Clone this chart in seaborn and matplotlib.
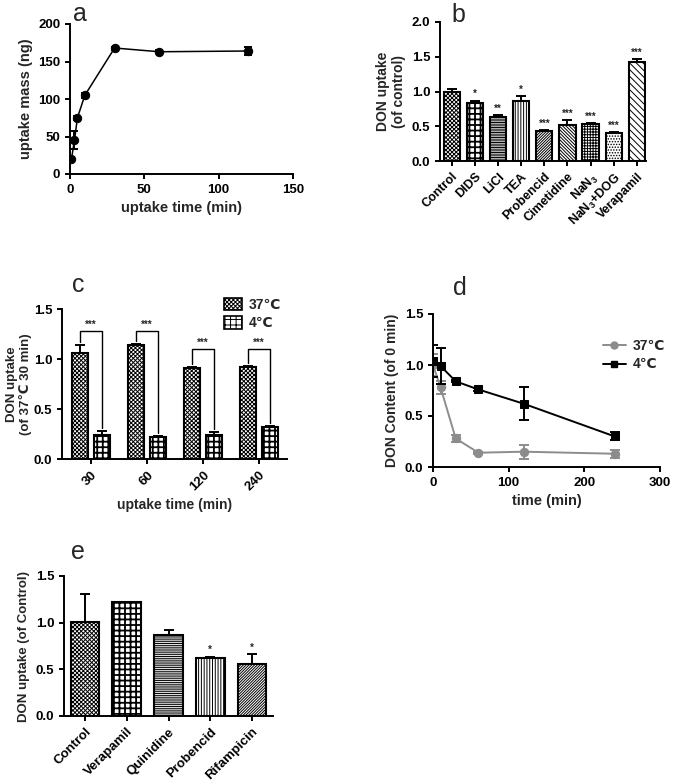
import numpy as np
import pandas as pd
import seaborn as sns
import matplotlib.pyplot as plt
from matplotlib.patches import Patch
from matplotlib.lines import Line2D

# panel a: uptake time course
a_time = [1, 3, 5, 10, 30, 60, 120]
a_mass = [20, 45, 75, 105, 168, 163, 164]
a_err = [2, 12, 3, 3, 2, 2, 5]

# panel b: inhibitors
b_groups = ["Control", "DIDS", "LiCl", "TEA", "Probencid", "Cimetidine",
            "NaN$_3$", "NaN$_3$+DOG", "Verapamil"]
b_mean = [1.00, 0.83, 0.64, 0.87, 0.43, 0.52, 0.53, 0.41, 1.42]
b_err = [0.04, 0.04, 0.02, 0.06, 0.01, 0.07, 0.02, 0.01, 0.05]
b_sig = ["", "*", "**", "*", "***", "***", "***", "***", "***"]
b_hatch = ["xxxxxxxx", "+++", "----------", "||||||", "////////////",
           "\\" * 10, "++++++", "......", "\\" * 5]

# panel c: temperature
c_time = ["30", "60", "120", "240"]
c_37 = [1.06, 1.14, 0.91, 0.92]
c_37_err = [0.08, 0.01, 0.01, 0.01]
c_4 = [0.24, 0.22, 0.24, 0.32]
c_4_err = [0.04, 0.01, 0.03, 0.01]
c_bracket = [1.28, 1.28, 1.10, 1.10]

# panel d: efflux
d_time = [0, 10, 30, 60, 120, 240]
d_37 = [1.00, 0.78, 0.28, 0.14, 0.15, 0.13]
d_37_err = [0.11, 0.06, 0.03, 0.01, 0.07, 0.04]
d_4 = [1.04, 0.99, 0.84, 0.76, 0.62, 0.30]
d_4_err = [0.16, 0.18, 0.01, 0.01, 0.16, 0.04]

# panel e: transporter inhibitors
e_groups = ["Control", "Verapamil", "Quinidine", "Probencid", "Rifampicin"]
e_mean = [1.01, 1.22, 0.87, 0.62, 0.56]
e_err = [0.30, 0.005, 0.05, 0.01, 0.10]
e_sig = ["", "", "", "*", "*"]
e_hatch = ["xxxxxxxx", "+++", "---------", "||||||", "////////////"]

CHECKER = "+++"

sns.set_style("ticks")
plt.rcParams["font.family"] = ["Liberation Sans", "DejaVu Sans"]
plt.rcParams["font.weight"] = "bold"
plt.rcParams["axes.labelweight"] = "bold"
plt.rcParams["mathtext.fontset"] = "custom"
plt.rcParams["mathtext.bf"] = "Liberation Sans:bold"
plt.rcParams["mathtext.default"] = "bf"
plt.rcParams["hatch.linewidth"] = 0.7
plt.rcParams["axes.edgecolor"] = "black"
plt.rcParams["axes.linewidth"] = 1.4
plt.rcParams["xtick.color"] = "black"
plt.rcParams["ytick.color"] = "black"
plt.rcParams["xtick.major.width"] = 1.4
plt.rcParams["ytick.major.width"] = 1.4
plt.rcParams["xtick.major.size"] = 3.5
plt.rcParams["ytick.major.size"] = 3.5
plt.rcParams["xtick.labelsize"] = 9.5
plt.rcParams["ytick.labelsize"] = 9.5
plt.rcParams["axes.labelsize"] = 10

W, H = 675, 782
fig = plt.figure(figsize=(W / 100, H / 100), dpi=100)


def add_ax(left, right, top, bottom):
    # pixel box -> figure fractions
    return fig.add_axes([left / W, 1 - bottom / H, (right - left) / W, (bottom - top) / H])


def finish(ax):
    sns.despine(ax=ax)
    ax.tick_params(direction="out")


def rotate_labels(ax):
    for lab in ax.get_xticklabels():
        lab.set_rotation(45)
        lab.set_ha("right")
        lab.set_rotation_mode("anchor")


def set_hatch(p, h):
    p.set_hatch(h)
    if h == CHECKER and hasattr(p, "set_hatch_linewidth"):
        p.set_hatch_linewidth(1.3)


def up_err(ax, x, y, e):
    ax.errorbar(x, y, yerr=[np.zeros(len(e)), e], fmt="none", ecolor="black",
                elinewidth=1.4, capsize=3.5, capthick=1.4, zorder=5)


# ---- a ----
ax_a = add_ax(70, 293, 24, 174)
sns.lineplot(x=a_time, y=a_mass, color="black", marker="o", markersize=6,
             markeredgecolor="black", linewidth=1.1, ax=ax_a)
ax_a.errorbar(a_time, a_mass, yerr=a_err, fmt="none", ecolor="black",
              elinewidth=1.4, capsize=3, capthick=1.4)
ax_a.set_xlim(0, 150)
ax_a.set_ylim(0, 200)
ax_a.set_xticks([0, 50, 100, 150])
ax_a.set_yticks([0, 50, 100, 150, 200])
ax_a.set_xlabel("uptake time (min)", fontsize=10.5)
ax_a.set_ylabel("uptake mass (ng)", fontsize=10.5)
finish(ax_a)

# ---- b ----
ax_b = add_ax(440, 646, 22, 161)
df_b = pd.DataFrame({"group": b_groups, "uptake": b_mean})
sns.barplot(data=df_b, x="group", y="uptake", color="white", edgecolor="black",
            linewidth=1.5, width=0.7, errorbar=None, ax=ax_b)
for p, h in zip(ax_b.patches, b_hatch):
    set_hatch(p, h)
up_err(ax_b, range(len(b_groups)), b_mean, b_err)
for i, s in enumerate(b_sig):
    if s:
        ax_b.text(i, b_mean[i] + b_err[i] + 0.02, s, ha="center", va="bottom", fontsize=7)
ax_b.set_xlim(-0.52, 8.4)
ax_b.set_ylim(0, 2.0)
ax_b.set_yticks([0, 0.5, 1.0, 1.5, 2.0])
ax_b.set_yticklabels(["0.0", "0.5", "1.0", "1.5", "2.0"])
ax_b.tick_params(axis="x", labelsize=9)
ax_b.set_xlabel("")
ax_b.set_ylabel("DON uptake\n(of control)")
rotate_labels(ax_b)
finish(ax_b)

# ---- c ----
ax_c = add_ax(62, 287, 309, 459)
df_c = pd.DataFrame({"time": c_time * 2, "uptake": c_37 + c_4,
                     "temp": ["37℃"] * 4 + ["4℃"] * 4})
sns.barplot(data=df_c, x="time", y="uptake", hue="temp", palette=["white", "white"],
            edgecolor="black", linewidth=1.5, gap=0.3, errorbar=None, legend=False, ax=ax_c)
bars = ax_c.patches
for p in bars[:4]:
    set_hatch(p, "xxxxxxxx")
for p in bars[4:8]:
    set_hatch(p, CHECKER)
x37 = [p.get_x() + p.get_width() / 2 for p in bars[:4]]
x4 = [p.get_x() + p.get_width() / 2 for p in bars[4:8]]
up_err(ax_c, x37, c_37, c_37_err)
up_err(ax_c, x4, c_4, c_4_err)
for i in range(4):
    top = c_bracket[i]
    ax_c.plot([x37[i], x37[i], x4[i], x4[i]],
              [c_37[i] + c_37_err[i] + 0.03, top, top, c_4[i] + c_4_err[i] + 0.03],
              color="black", linewidth=1.0)
    ax_c.text((x37[i] + x4[i]) / 2, top + 0.01, "***", ha="center", va="bottom", fontsize=7)
ax_c.set_xlim(-0.52, 3.5)
ax_c.set_ylim(0, 1.5)
ax_c.set_yticks([0, 0.5, 1.0, 1.5])
ax_c.set_yticklabels(["0.0", "0.5", "1.0", "1.5"])
ax_c.set_xlabel("uptake time (min)")
ax_c.set_ylabel("DON uptake\n(of 37℃ 30 min)", fontsize=9.5, labelpad=1, linespacing=1.1)
rotate_labels(ax_c)
handles_c = [Patch(facecolor="white", edgecolor="black", hatch="xxxxxxxx", linewidth=1.2),
             Patch(facecolor="white", edgecolor="black", hatch=CHECKER, linewidth=1.2)]
if hasattr(handles_c[1], "set_hatch_linewidth"):
    handles_c[1].set_hatch_linewidth(1.3)
ax_c.legend(handles_c, ["37℃", "4℃"], loc="upper left", bbox_to_anchor=(0.69, 1.12),
            frameon=False, fontsize=10, handlelength=1.3, handleheight=1.0,
            handletextpad=0.5, labelspacing=0.3, borderpad=0)
finish(ax_c)

# ---- d ----
ax_d = add_ax(433, 660, 314, 467)
df_d = pd.DataFrame({"time": d_time * 2, "content": d_37 + d_4,
                     "temp": ["37℃"] * 6 + ["4℃"] * 6})
d_colors = {"37℃": "#8c8c8c", "4℃": "black"}
sns.lineplot(data=df_d, x="time", y="content", hue="temp", style="temp",
             palette=d_colors, markers={"37℃": "o", "4℃": "s"}, dashes=False,
             markersize=6, markeredgecolor=None, linewidth=1.4, legend=False, ax=ax_d)
ax_d.errorbar(d_time, d_37, yerr=d_37_err, fmt="none", ecolor=d_colors["37℃"],
              elinewidth=1.4, capsize=3.5, capthick=1.4)
ax_d.errorbar(d_time, d_4, yerr=d_4_err, fmt="none", ecolor="black",
              elinewidth=1.4, capsize=3.5, capthick=1.4)
ax_d.set_xlim(0, 300)
ax_d.set_ylim(0, 1.5)
ax_d.set_xticks([0, 100, 200, 300])
ax_d.set_yticks([0, 0.5, 1.0, 1.5])
ax_d.set_yticklabels(["0.0", "0.5", "1.0", "1.5"])
ax_d.set_xlabel("time (min)", fontsize=10.5)
ax_d.set_ylabel("DON Content (of 0 min)")
handles_d = [Line2D([], [], color=d_colors["37℃"], marker="o", markersize=5, linewidth=1.4),
             Line2D([], [], color="black", marker="s", markersize=5, linewidth=1.4)]
ax_d.legend(handles_d, ["37℃", "4℃"], loc="upper left", bbox_to_anchor=(0.72, 0.88),
            frameon=False, fontsize=10, handlelength=1.6, handletextpad=0.5,
            labelspacing=0.3, borderpad=0)
finish(ax_d)

# ---- e ----
ax_e = add_ax(64, 273, 576, 716)
df_e = pd.DataFrame({"group": e_groups, "uptake": e_mean})
sns.barplot(data=df_e, x="group", y="uptake", color="white", edgecolor="black",
            linewidth=1.5, width=0.68, errorbar=None, ax=ax_e)
for p, h in zip(ax_e.patches, e_hatch):
    set_hatch(p, h)
up_err(ax_e, range(len(e_groups)), e_mean, e_err)
for i, s in enumerate(e_sig):
    if s:
        ax_e.text(i, e_mean[i] + e_err[i] + 0.02, s, ha="center", va="bottom", fontsize=7)
ax_e.set_xlim(-0.5, 4.5)
ax_e.set_ylim(0, 1.5)
ax_e.set_yticks([0, 0.5, 1.0, 1.5])
ax_e.set_yticklabels(["0.0", "0.5", "1.0", "1.5"])
ax_e.set_xlabel("")
ax_e.set_ylabel("DON uptake (of Control)", fontsize=9.5)
rotate_labels(ax_e)
finish(ax_e)

# panel letters
for letter, (px, py) in {"a": (80, 14), "b": (458, 15), "c": (78, 285),
                         "d": (460, 288), "e": (78, 552)}.items():
    fig.text(px / W, 1 - py / H, letter, fontsize=18, fontweight="normal",
             ha="center", va="center")

fig.savefig("out.png", dpi=100)
